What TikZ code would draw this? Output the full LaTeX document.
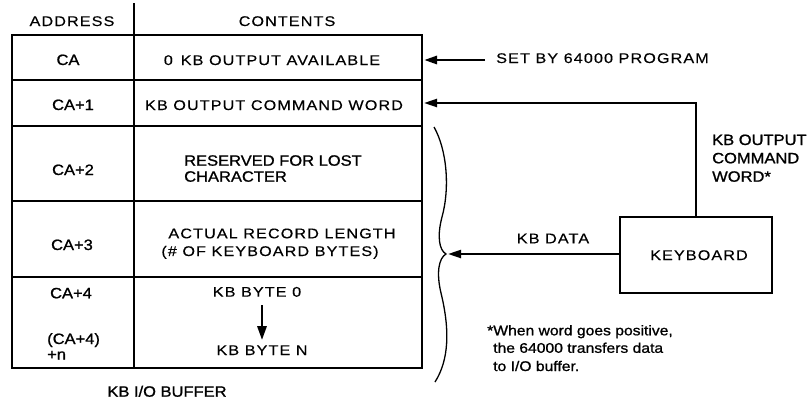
\documentclass[tikz,border=0pt]{standalone}
\usepackage{fontspec}
\setmainfont{Liberation Sans}[FakeStretch=1.1,FakeBold=1.1]
\newfontfamily\lightf{Liberation Sans}[FakeStretch=1.157,LetterSpace=7.7,FakeBold=0.3]
\newfontfamily\notef{Liberation Sans}[FakeStretch=1.12,FakeBold=1]
\usetikzlibrary{arrows.meta}
\begin{document}
\begin{tikzpicture}[x=1pt,y=-1pt,
  reg/.style={font=\fontsize{15}{18}\selectfont, inner sep=0pt, anchor=base},
  lite/.style={font=\lightf\fontsize{14}{17}\selectfont, inner sep=0pt, anchor=base},
  note/.style={font=\notef\fontsize{14}{18}\selectfont, inner sep=0pt, anchor=base west},
  cell/.style={draw, line width=2.2pt, inner sep=0pt, outer sep=0pt},
  acell/.style={cell, minimum width=122pt},
  ccell/.style={cell, minimum width=288pt},
  arr/.style={line width=2.2pt, -{Triangle[length=13pt,width=8pt]}},
  conn/.style={line width=2.2pt},
  bracestyle/.style={line width=1.3pt},
  kbbox/.style={draw, line width=2.4pt, minimum width=152pt, minimum height=76pt, inner sep=0pt, outer sep=0pt}
]
\useasboundingbox (0,0) rectangle (811,402);

% table cells
\node[acell, minimum height=45pt] (a0) at (73,57.5) {};
\node[ccell, minimum height=45pt] (c0) at (278,57.5) {};
\node[acell, minimum height=46pt] (a1) at (73,103) {};
\node[ccell, minimum height=46pt] (c1) at (278,103) {};
\node[acell, minimum height=75pt] (a2) at (73,163.5) {};
\node[ccell, minimum height=75pt] (c2) at (278,163.5) {};
\node[acell, minimum height=76pt] (a3) at (73,239) {};
\node[ccell, minimum height=76pt] (c3) at (278,239) {};
\node[acell, minimum height=91pt] (a4) at (73,322.5) {};
\node[ccell, minimum height=91pt] (c4) at (278,322.5) {};
\draw[conn] (a0.north east) -- ++(0,-32);

% headers
\node[lite] (hA) at (72,26) {ADDRESS};
\node[lite] (hC) at (287,26) {CONTENTS};

% address column
\node[reg] (tA0) at (68,65) {CA};
\node[reg] (tA1) at (73,110) {CA+1};
\node[reg] (tA2) at (73,175) {CA+2};
\node[reg] (tA3) at (72,250) {CA+3};
\node[reg] (tA4) at (71,298.3) {CA+4};
\node[reg, anchor=base west] (tA5) at (47,344) {(CA+4)};
\node[reg, anchor=base west] (tA6) at (47,359.5) {+n};

% contents column
\node[lite] (t0) at (272,65) {0\, KB OUTPUT AVAILABLE};
\node[lite] (t1) at (274,110) {KB OUTPUT COMMAND WORD};
\node[reg, anchor=base west] (t2a) at (184,165.7) {RESERVED FOR LOST};
\node[reg, anchor=base west] (t2b) at (184,181.7) {CHARACTER};
\node[lite] (t3a) at (282,238.3) {ACTUAL RECORD LENGTH};
\node[lite] (t3b) at (270,256) {(\# OF KEYBOARD BYTES)};
\node[lite] (b0) at (257,296.7) {KB BYTE 0};
\node[lite] (bN) at (262,355) {KB BYTE N};
\draw[line width=2.8pt, -{Triangle[length=14pt,width=9pt]}, shorten <=8pt, shorten >=5pt] (bN.north |- b0.south) -- (bN.north);

\node[reg] (buf) at (167,396.7) {KB I/O BUFFER};

% right side
\node[lite, anchor=base west] (set) at (496,63) {SET BY 64000 PROGRAM};
\coordinate (setTail) at (485,60);
\draw[arr, line width=2.8pt, shorten >=2pt] (setTail) -- (c0.east |- setTail);

\node[kbbox] (kb) at (696,255) {};
\node[lite] (kbt) at (699,260) {KEYBOARD};

\draw[arr, shorten >=2pt] (kb.north) |- (c1.east);

\node[reg, anchor=base west] (w1) at (712,145) {KB OUTPUT};
\node[reg, anchor=base west] (w2) at (712,163.3) {COMMAND};
\node[reg, anchor=base west] (w3) at (712,181.7) {WORD*};

% brace
\draw[bracestyle] (434,127) .. controls (447,150) and (450,188) .. (442,217)
  .. controls (437,236) and (439,250) .. (446,254)
  .. controls (439,258) and (436,272) .. (441,293)
  .. controls (450,330) and (449,360) .. (435,382);
\coordinate (bt) at (448,254);
\draw[arr] (kb.west |- bt) -- (bt);
\node[lite] (kbd) at (553,243.3) {KB DATA};

% footnote
\node[note] (n1) at (487,335.3) {*When word goes positive,};
\node[note] (n2) at (493,352.8) {the 64000 transfers data};
\node[note] (n3) at (493,371) {to I/O buffer.};
\end{tikzpicture}
\end{document}
